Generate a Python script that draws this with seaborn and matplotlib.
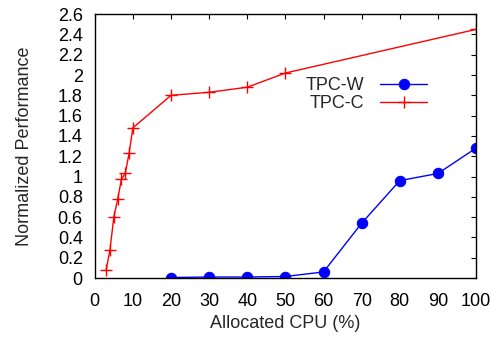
import matplotlib
matplotlib.use("Agg")
import matplotlib.pyplot as plt
import seaborn as sns
import pandas as pd

# Data
tpcw_x = [20, 30, 40, 50, 60, 70, 80, 90, 100]
tpcw_y = [0.005, 0.01, 0.01, 0.015, 0.06, 0.54, 0.96, 1.03, 1.28]
tpcc_x = [3, 4, 5, 6, 7, 8, 9, 10, 20, 30, 40, 50, 100]
tpcc_y = [0.08, 0.28, 0.60, 0.775, 0.975, 1.03, 1.23, 1.48, 1.80, 1.83, 1.88, 2.02, 2.45]
x_ticks = list(range(0, 101, 10))
y_ticks = [0, 0.2, 0.4, 0.6, 0.8, 1.0, 1.2, 1.4, 1.6, 1.8, 2.0, 2.2, 2.4, 2.6]
y_tick_labels = ["0", "0.2", "0.4", "0.6", "0.8", "1", "1.2", "1.4", "1.6", "1.8", "2", "2.2", "2.4", "2.6"]

sns.set_style("white")
plt.rcParams['font.family'] = ['Liberation Sans', 'DejaVu Sans']

fig = plt.figure(figsize=(4.91, 3.37), dpi=100)
ax = fig.add_axes([0.193, 0.175, 0.9695 - 0.193, 0.958 - 0.175])

dfw = pd.DataFrame({"x": tpcw_x, "y": tpcw_y})
dfc = pd.DataFrame({"x": tpcc_x, "y": tpcc_y})

sns.lineplot(data=dfw, x="x", y="y", ax=ax, color="#0000ff", marker="o",
             markersize=7.5, markeredgecolor="#0000ff", linewidth=1.0, label="TPC-W")
sns.lineplot(data=dfc, x="x", y="y", ax=ax, color="#ff0000", marker="+",
             markersize=9, markeredgewidth=1.0, markeredgecolor="#ff0000",
             linewidth=1.0, label="TPC-C")

FS = 13
ax.set_xlim(0, 100)
ax.set_ylim(0, 2.6)
ax.set_xticks(x_ticks)
ax.set_yticks(y_ticks)
ax.set_yticklabels(y_tick_labels)
ax.tick_params(direction="in", length=3.5, width=0.8, top=True, right=True,
               labelsize=FS, colors="black")
ax.tick_params(axis="x", pad=10.5)
ax.tick_params(axis="y", pad=8.6)
for s in ax.spines.values():
    s.set_visible(True)
    s.set_color("black")
    s.set_linewidth(1.0)

ax.set_xlabel("Allocated CPU (%)", fontsize=FS, labelpad=4)
ax.set_ylabel("Normalized Performance", fontsize=FS, labelpad=18)

leg = ax.legend(loc="upper right", bbox_to_anchor=(0.872, 0.762), frameon=False,
                markerfirst=False, handlelength=2.6, fontsize=FS,
                labelspacing=0.05, handletextpad=0.9, borderaxespad=0,
                borderpad=0)
for t in leg.get_texts():
    t.set_ha("right")

fig.savefig("out.png", dpi=100)
